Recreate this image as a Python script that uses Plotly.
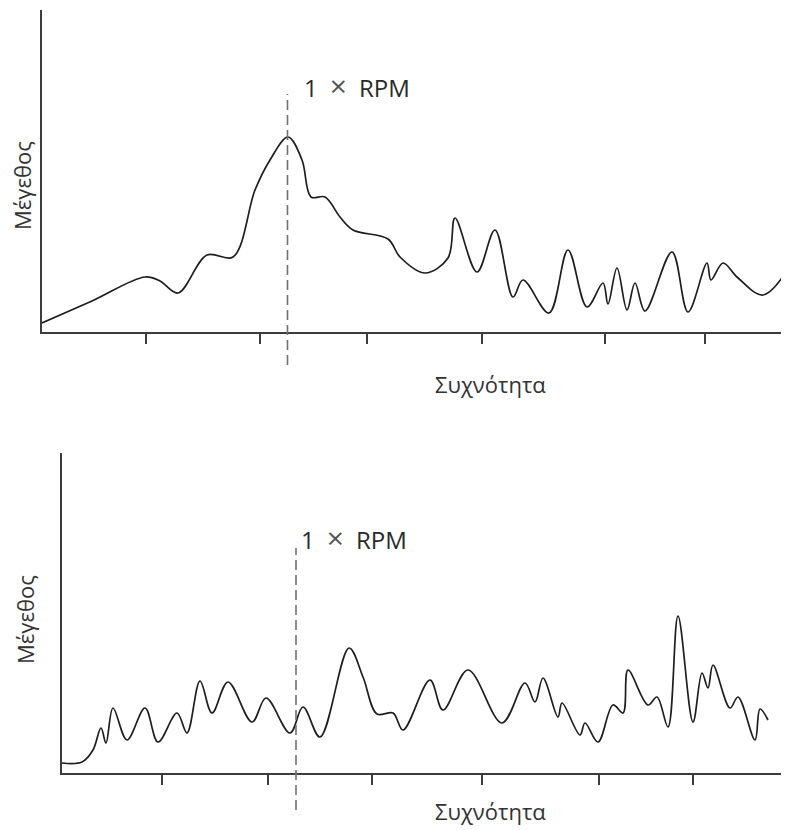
import plotly.graph_objects as go

# ---------------- data (arbitrary units) ----------------
# Top spectrum
top_freq = [0, 50, 103, 118, 136, 165, 191, 213, 228, 246, 260, 269, 283, 298, 311,
            346, 358, 383, 406, 413, 435, 453, 471, 481, 507, 526, 545, 561, 566, 575,
            585, 593, 603, 630, 646, 665, 669, 681, 695, 721, 746]
top_mag = [9, 31, 55, 51, 39, 77, 75, 142, 172, 195, 172, 135, 135, 115, 102,
           93, 75, 59, 74, 114, 60, 102, 35, 52, 19, 82, 25, 49, 28, 64,
           22, 49, 21, 80, 20, 69, 52, 69, 55, 37, 63]
top_ticks = [104, 218, 325, 440, 563, 663]
top_rpm = 245.5

# Bottom spectrum
bot_freq = [0, 20, 31, 39, 44, 51, 65, 83, 96, 115, 125, 138, 150, 166, 190, 204,
            228, 241, 258, 287, 301, 315, 331, 341, 368, 381, 406, 440, 463, 473,
            481, 496, 500, 518, 523, 536, 551, 561, 566, 586, 595, 606, 616, 631,
            640, 646, 651, 668, 676, 693, 698, 706]
bot_mag = [10, 11, 23, 45, 30, 65, 33, 65, 31, 60, 40, 92, 60, 91, 51, 75,
           40, 66, 36, 125, 96, 59, 60, 43, 93, 63, 103, 50, 90, 71,
           95, 56, 70, 38, 50, 31, 68, 60, 103, 68, 76, 46, 157, 51,
           100, 85, 108, 65, 76, 33, 64, 53]
bot_ticks = [100, 206, 310, 420, 537, 631]
bot_rpm = 234

y_label = "Μέγεθος"
x_label = "Συχνότητα"
rpm_label = "1\u2002<span style='font-size:30px;color:#555555'>×</span>\u2002RPM"

# ---------------- figure ----------------
WIN_W, WIN_H = 789, 830
OFF = 8  # page body margin
W, H = WIN_W - OFF, WIN_H - OFF
FONT = "Open Sans, Liberation Sans, sans-serif"
AXC = "#3c3c3c"
CURVE = "#1e1e1e"
DASHC = "#707070"

fig = go.Figure()
fig.add_trace(go.Scatter(x=top_freq, y=top_mag, mode="lines",
                         line=dict(color=CURVE, width=1.7, shape="spline", smoothing=1.0),
                         xaxis="x", yaxis="y", showlegend=False, hoverinfo="skip"))
fig.add_trace(go.Scatter(x=bot_freq, y=bot_mag, mode="lines",
                         line=dict(color=CURVE, width=1.7, shape="spline", smoothing=1.0),
                         xaxis="x2", yaxis="y2", showlegend=False, hoverinfo="skip"))

def px(v):
    return (v - OFF) / W

def py(v):
    return (WIN_H - v) / H

common_x = dict(showline=True, linecolor=AXC, linewidth=2, showgrid=False, zeroline=False,
                ticks="outside", ticklen=10, tickwidth=1.5, tickcolor=AXC,
                showticklabels=False, mirror=False, fixedrange=True)
common_y = dict(showline=True, linecolor=AXC, linewidth=2, showgrid=False, zeroline=False,
                ticks="", showticklabels=False, mirror=False, fixedrange=True)

fig.update_layout(
    width=W, height=H,
    margin=dict(l=0, r=0, t=0, b=0),
    paper_bgcolor="white", plot_bgcolor="white",
    xaxis=dict(common_x, domain=[px(42), 1.0], range=[0, 747], tickvals=top_ticks,
               anchor="y"),
    yaxis=dict(common_y, domain=[py(332), py(10)], range=[0, 322], anchor="x"),
    xaxis2=dict(common_x, domain=[px(62), px(782)], range=[0, 720], tickvals=bot_ticks,
                anchor="y2"),
    yaxis2=dict(common_y, domain=[py(773), py(453)], range=[0, 320], anchor="x2"),
    shapes=[
        dict(type="line", xref="x", yref="paper", x0=top_rpm, x1=top_rpm,
             y0=py(365), y1=py(94), line=dict(color=DASHC, width=1.6, dash="10px,5px")),
        dict(type="line", xref="x2", yref="paper", x0=bot_rpm, x1=bot_rpm,
             y0=py(810), y1=py(548), line=dict(color=DASHC, width=1.6, dash="10px,5px")),
    ],
    annotations=[
        dict(text=rpm_label, xref="paper", yref="paper", x=px(302), y=py(85),
             xanchor="left", yanchor="middle", showarrow=False,
             font=dict(family=FONT, size=24, color="#2a2a2a")),
        dict(text=rpm_label, xref="paper", yref="paper", x=px(299), y=py(537),
             xanchor="left", yanchor="middle", showarrow=False,
             font=dict(family=FONT, size=24, color="#2a2a2a")),
        dict(text=y_label, xref="paper", yref="paper", x=px(22), y=py(186),
             xanchor="center", yanchor="middle", textangle=-90, showarrow=False,
             font=dict(family=FONT, size=22, color="#333333")),
        dict(text=y_label, xref="paper", yref="paper", x=px(25), y=py(620),
             xanchor="center", yanchor="middle", textangle=-90, showarrow=False,
             font=dict(family=FONT, size=22, color="#333333")),
        dict(text=x_label, xref="paper", yref="paper", x=px(490), y=py(384),
             xanchor="center", yanchor="middle", showarrow=False,
             font=dict(family=FONT, size=22, color="#333333")),
        dict(text=x_label, xref="paper", yref="paper", x=px(490), y=py(811),
             xanchor="center", yanchor="middle", showarrow=False,
             font=dict(family=FONT, size=22, color="#333333")),
    ],
)

fig.write_html("out.html")
